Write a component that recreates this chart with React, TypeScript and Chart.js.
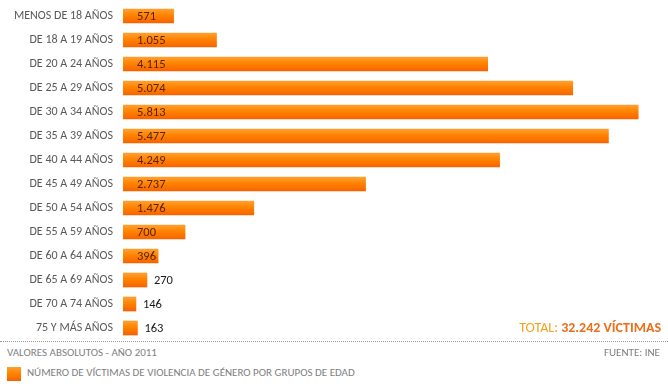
import React, { useEffect, useRef } from "react";
import { Chart, registerables } from "chart.js";

Chart.register(...registerables);

const categories = [
  "MENOS DE 18 AÑOS",
  "DE 18 A 19 AÑOS",
  "DE 20 A 24 AÑOS",
  "DE 25 A 29 AÑOS",
  "DE 30 A 34 AÑOS",
  "DE 35 A 39 AÑOS",
  "DE 40 A 44 AÑOS",
  "DE 45 A 49 AÑOS",
  "DE 50 A 54 AÑOS",
  "DE 55 A 59 AÑOS",
  "DE 60 A 64 AÑOS",
  "DE 65 A 69 AÑOS",
  "DE 70 A 74 AÑOS",
  "75 Y MÁS AÑOS",
];
const victims = [571, 1055, 4115, 5074, 5813, 5477, 4249, 2737, 1476, 700, 396, 270, 146, 163];
const seriesName = "NÚMERO DE VÍCTIMAS DE VIOLENCIA DE GÉNERO POR GRUPOS DE EDAD";
const totalLabel = "TOTAL:";
const totalValue = "32.242 VÍCTIMAS";
const subtitle = "VALORES ABSOLUTOS - AÑO 2011";
const source = "FUENTE: INE";

const FONT = "Calibri, Carlito, 'Open Sans', sans-serif";
const fmt = (v: number) => v.toLocaleString("de-DE");

const labelPlugin = {
  id: "barLabels",
  afterDatasetsDraw(chart: any) {
    const ctx = chart.ctx;
    const meta = chart.getDatasetMeta(0);
    ctx.save();
    ctx.font = `12.5px ${FONT}`;
    ctx.textBaseline = "middle";
    ctx.textAlign = "left";
    meta.data.forEach((bar: any, i: number) => {
      const v = victims[i];
      const text = fmt(v);
      const w = ctx.measureText(text).width;
      const inside = bar.x - bar.base >= w + 15;
      if (inside) {
        ctx.fillStyle = "#5a2200";
        ctx.fillText(text, bar.base + 14, bar.y + 1);
      } else {
        ctx.fillStyle = "#1a1a1a";
        ctx.fillText(text, bar.x + 7, bar.y + 1);
      }
    });
    ctx.restore();
  },
};

function barGradient(ctx: CanvasRenderingContext2D, y0: number, y1: number) {
  const g = ctx.createLinearGradient(0, y0, 0, y1);
  g.addColorStop(0, "#ffa030");
  g.addColorStop(0.45, "#ff8400");
  g.addColorStop(1, "#f86200");
  return g;
}

export default function App() {
  const canvasRef = useRef<HTMLCanvasElement>(null);
  const legendRef = useRef<HTMLCanvasElement>(null);

  useEffect(() => {
    if (!canvasRef.current) return;
    const chart = new Chart(canvasRef.current, {
      type: "bar",
      data: {
        labels: categories,
        datasets: [
          {
            label: seriesName,
            data: victims,
            barThickness: 14,
            backgroundColor: (c: any) => {
              const ch = c.chart;
              if (!ch.chartArea || c.dataIndex === undefined) return "#ff8000";
              const y = ch.scales.y.getPixelForValue(c.dataIndex);
              return barGradient(ch.ctx, y - 7, y + 7);
            },
            borderWidth: 0,
          },
        ],
      },
      options: {
        indexAxis: "y",
        animation: false,
        responsive: false,
        maintainAspectRatio: false,
        layout: { padding: { top: 4, bottom: 0, left: 0, right: 7 } },
        plugins: {
          legend: { display: false },
          tooltip: { enabled: false },
        },
        scales: {
          x: {
            display: false,
            min: 0,
            max: 6070,
          },
          y: {
            grid: { display: false, drawTicks: false },
            border: { display: false },
            ticks: {
              color: "#595959",
              font: { family: FONT, size: 12 },
              padding: 10,
            },
            afterFit: (s: any) => {
              s.width = 123;
              s.paddingTop = 0;
              s.paddingBottom = 0;
            },
          },
        },
      },
      plugins: [labelPlugin],
    });
    return () => chart.destroy();
  }, []);

  useEffect(() => {
    const cv = legendRef.current;
    if (!cv) return;
    const ctx = cv.getContext("2d");
    if (!ctx) return;
    ctx.fillStyle = barGradient(ctx, 0, 14);
    ctx.fillRect(0, 0, 14, 14);
  }, []);

  return (
    <div
      style={{
        position: "absolute",
        left: 0,
        top: 0,
        width: 668,
        height: 390,
        background: "#fff",
        fontFamily: FONT,
        overflow: "hidden",
      }}
    >
      <canvas ref={canvasRef} width={668} height={340} style={{ position: "absolute", left: 0, top: 0 }} />
      <div
        style={{
          position: "absolute",
          right: 7,
          top: 319,
          fontSize: 14,
          lineHeight: "18px",
          whiteSpace: "nowrap",
        }}
      >
        <span style={{ color: "#f5a21c" }}>{totalLabel} </span>
        <span style={{ color: "#ec6d1a", fontWeight: "bold" }}>{totalValue}</span>
      </div>
      <div
        style={{
          position: "absolute",
          left: 0,
          right: 0,
          top: 341,
          borderTop: "1px dotted #9a9a9a",
        }}
      />
      <div
        style={{
          position: "absolute",
          left: 7,
          top: 345,
          fontSize: 11,
          lineHeight: "16px",
          color: "#7f7f7f",
          whiteSpace: "nowrap",
        }}
      >
        {subtitle}
      </div>
      <div
        style={{
          position: "absolute",
          right: 8,
          top: 345,
          fontSize: 11,
          lineHeight: "16px",
          color: "#7f7f7f",
          whiteSpace: "nowrap",
        }}
      >
        {source}
      </div>
      <canvas ref={legendRef} width={14} height={14} style={{ position: "absolute", left: 7, top: 367 }} />
      <div
        style={{
          position: "absolute",
          left: 27,
          top: 365,
          fontSize: 11,
          lineHeight: "16px",
          color: "#7f7f7f",
          whiteSpace: "nowrap",
        }}
      >
        {seriesName}
      </div>
    </div>
  );
}
